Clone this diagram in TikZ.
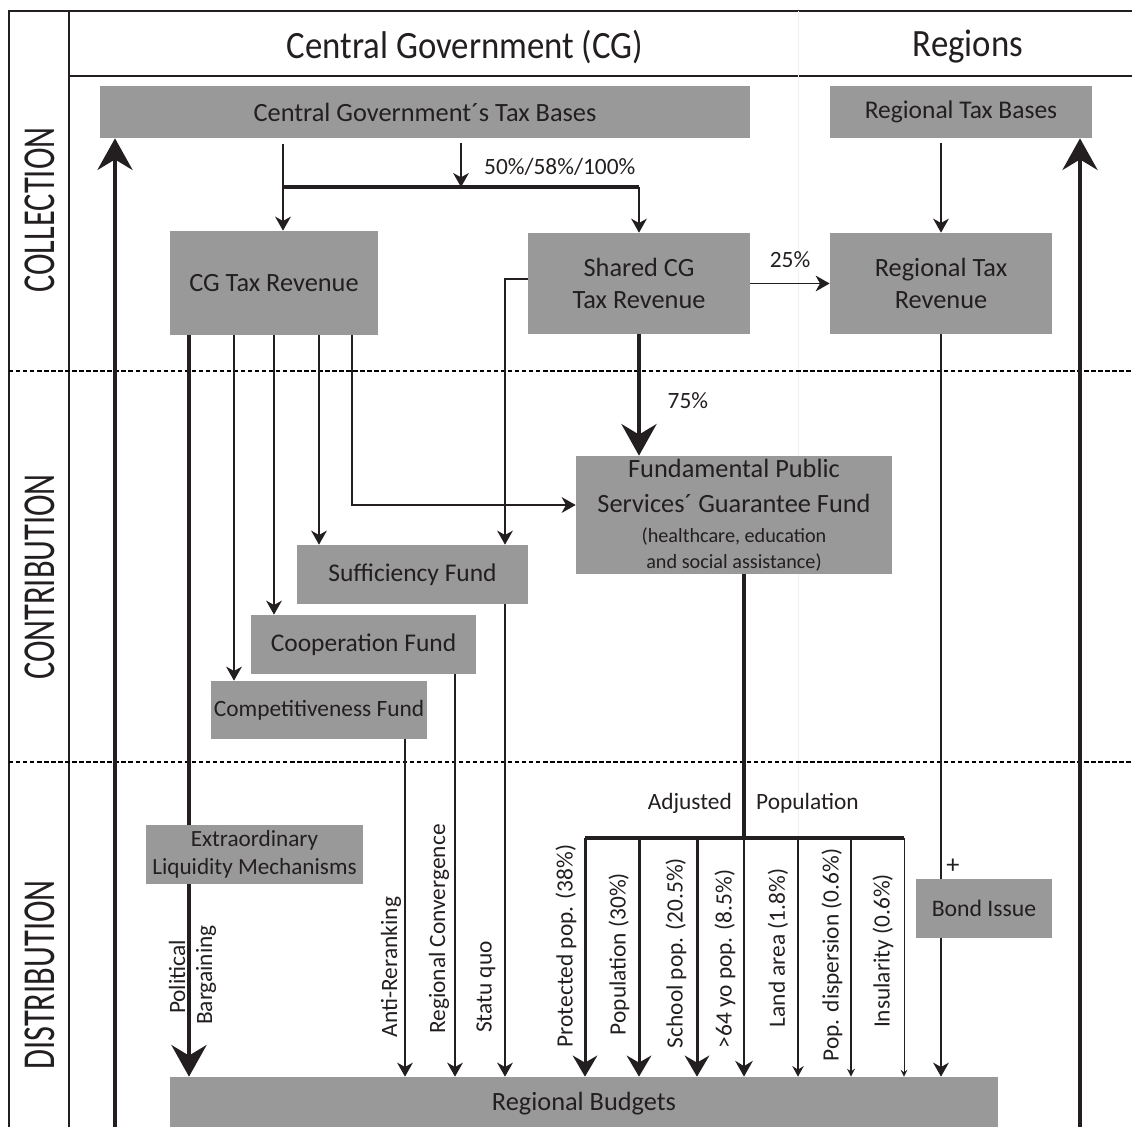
\documentclass[tikz,border=0pt]{standalone}
\usepackage{fontspec}
\setmainfont{Carlito}
\usetikzlibrary{arrows.meta,calc}
\definecolor{boxgray}{RGB}{153,153,153}
\definecolor{ink}{RGB}{35,31,32}
\tikzset{
  box/.style={fill=boxgray, inner sep=0pt, align=center, text=ink,
    font=\fontsize{15}{18}\selectfont},
  line/.style={line width=0.8pt, draw=ink},
  flow/.style={line, -{Stealth[length=8pt,width=9pt,inset=2.5pt]}},
  bigflow/.style={line width=2pt, draw=ink, -{Stealth[length=18pt,width=20pt,inset=6pt]}},
  midflow/.style={line width=1.7pt, draw=ink, -{Stealth[length=12pt,width=14pt,inset=4pt]}},
  lbl/.style={text=ink, font=\fontsize{13.3}{15}\selectfont},
  vlbl/.style={lbl, rotate=90},
  rowlbl/.style={text=ink, rotate=90, font=\fontsize{26}{28}\selectfont},
  headlbl/.style={text=ink, font=\fontsize{22}{24}\selectfont},
}
\begin{document}
\begin{tikzpicture}[x=0.02cm, y=-0.02cm]
\useasboundingbox (0,0) rectangle (1132,1126);
% frame and rows
\draw[line] (9,1140) -- (9,11) -- (1140,11);
\draw[line] (69,1140) -- (69,11);
\draw[line] (69,76) -- (1140,76);
\draw[black!6] (798,11) -- (798,1140);
\draw[line width=0.6pt, dash pattern=on 2.5pt off 1.5pt] (9,371) -- (1140,371);
\draw[line width=0.6pt, dash pattern=on 2.5pt off 1.5pt] (9,762) -- (1140,762);
\node[headlbl] (cghead) at (465,47) {\scalebox{0.9}[1]{Central Government (CG)}};
\node[headlbl] (rghead) at (968,47) {\scalebox{0.9}[1]{Regions}};
\node[rowlbl] (collect) at (40,210) {\scalebox{0.71}[1]{COLLECTION}};
\node[rowlbl] (contrib) at (40,577) {\scalebox{0.71}[1]{CONTRIBUTION}};
\node[rowlbl] (distrib) at (40,975) {\scalebox{0.71}[1]{DISTRIBUTION}};

% boxes
\node[box, minimum width=13cm, minimum height=1.04cm] (cgbases) at (425,112) {Central Government´s Tax Bases};
\node[box, minimum width=5.24cm, minimum height=1.04cm, font=\fontsize{14.5}{18}\selectfont] (rgbases) at (961,112) {Regional Tax Bases};
\node[box, minimum width=4.16cm, minimum height=2.08cm] (cgrev) at (274,283) {CG Tax Revenue};
\node[box, minimum width=4.44cm, minimum height=2.02cm] (shrev) at (639,283.5) {Shared CG\\Tax Revenue};
\node[box, minimum width=4.44cm, minimum height=2.02cm] (rgrev) at (941,283.5) {Regional Tax\\Revenue};
\node[box, minimum width=6.32cm, minimum height=2.36cm] (fund) at (734,515)
  {\raisebox{2pt}{Fundamental Public}\\Services´ Guarantee Fund\\[-1pt]
   {\fontsize{11.5}{14}\selectfont (healthcare, education}\\[-3pt]
   {\fontsize{11.5}{14}\selectfont and social assistance)}};
\node[box, minimum width=4.62cm, minimum height=1.18cm, font=\fontsize{14.5}{18}\selectfont] (suff) at (412.5,574.5) {Sufficiency Fund};
\node[box, minimum width=4.5cm, minimum height=1.18cm, font=\fontsize{14.5}{18}\selectfont] (coop) at (363.5,644.5) {Cooperation Fund};
\node[box, minimum width=4.32cm, minimum height=1.16cm, font=\fontsize{13.3}{16}\selectfont] (comp) at (319,710) {Competitiveness Fund};
\node[box, minimum width=2.72cm, minimum height=1.18cm, font=\fontsize{13.5}{16}\selectfont] (bond) at (984,908.5) {Bond Issue};
\node[box, minimum width=16.57cm, minimum height=1.08cm] (budgets) at (584,1104) {Regional Budgets};

% collection
\draw[bigflow] (115,1140) coordinate (lfoot) -- (lfoot |- cgbases.south);
\draw[bigflow] (1080,1140) coordinate (rfoot) -- (rfoot |- rgbases.south);
\coordinate (split) at (283,187);
\coordinate (splitR) at (639,187);
\coordinate (share) at (461,187);
\draw[line] (cgbases.south -| split) ++(0,6) -- (split);
\draw[line width=2pt, draw=ink] (split) -- (splitR);
\draw[flow] (split) -- (split |- cgrev.north);
\draw[flow] (splitR) -- (shrev.north);
\draw[flow] ($(cgbases.south -| share)+(0,5)$) -- (share);
\node[lbl, anchor=west] (sharetxt) at (478,167) {50\%/58\%/100\%};
\draw[flow] ($(rgrev |- rgbases.south)+(0,5)$) -- (rgrev.north);
\draw[flow] (shrev.east) -- (rgrev.west) node[lbl, midway, above=5pt] (quarter) {25\%};

% contribution
\draw[bigflow] (shrev.south) -- (shrev.south |- fund.north) node[lbl, pos=0.55, right=12pt] (threeq) {75\%};
\coordinate (stub) at (505,279);
\draw[flow] (shrev.west |- stub) -- (stub) -- (stub |- suff.north);
\draw[flow] ($(cgrev.south)+(-40,0)$) coordinate (c1) -- (c1 |- comp.north);
\draw[flow] (cgrev.south) -- (cgrev.south |- coop.north);
\draw[flow] ($(cgrev.south)+(45,0)$) coordinate (c3) -- (c3 |- suff.north);
\draw[flow] ($(cgrev.south)+(78,0)$) coordinate (c4) |- (fund.west |- 0,505);

% distribution
\draw[bigflow] ($(cgrev.south)+(-85,0)$) coordinate (pb) -- (pb |- budgets.north);
\node[box, minimum width=4.34cm, minimum height=1.18cm, font=\fontsize{13.2}{16}\selectfont] (extra) at (254.5,854.5) {Extraordinary\\Liquidity Mechanisms};
\node[vlbl] (polit) at (177,977) {Political};
\node[vlbl] (bargain) at (206,975) {Bargaining};
\draw[flow] (405,0 |- comp.south) coordinate (d1) -- (d1 |- budgets.north);
\draw[flow] (455,0 |- coop.south) coordinate (d2) -- (d2 |- budgets.north);
\draw[flow] (505,0 |- suff.south) coordinate (d3) -- (d3 |- budgets.north);
\node[vlbl] (antirr) at (391,967) {Anti-Reranking};
\node[vlbl] (regconv) at (439,929) {Regional Convergence};
\node[vlbl] (statu) at (486,987) {Statu quo};

% adjusted population
\coordinate (adj) at (744,838);
\draw[line width=2pt, draw=ink] (fund.south -| adj) -- (adj);
\draw[line width=2pt, draw=ink] (585,838) coordinate (popL) -- (904,838) coordinate (popR);
\node[lbl, anchor=east] (adjtxt) at (738,803) {Adjusted};
\node[lbl, anchor=west] (poptxt) at (750,803) {Population};
\draw[midflow] (popL) -- (popL |- budgets.north);
\draw[midflow] (639,838) coordinate (p2) -- (p2 |- budgets.north);
\draw[midflow] (697,838) coordinate (p3) -- (p3 |- budgets.north);
\draw[line width=1.3pt, draw=ink, -{Stealth[length=9pt,width=10pt,inset=3pt]}] (adj) -- (adj |- budgets.north);
\draw[line width=1pt, draw=ink, -{Stealth[length=6pt,width=6.5pt,inset=2pt]}] (798,838) coordinate (p5) -- (p5 |- budgets.north);
\draw[line width=0.7pt, draw=ink, -{Stealth[length=4.5pt,width=4.5pt,inset=1.5pt]}] (851,838) coordinate (p6) -- (p6 |- budgets.north);
\draw[line width=0.5pt, draw=ink, -{Stealth[length=4pt,width=4pt,inset=1.5pt]}] (popR) -- (popR |- budgets.north);
\node[vlbl] (protect) at (566,946) {Protected pop. (38\%)};
\node[vlbl] (popul) at (619,954) {Population (30\%)};
\node[vlbl] (school) at (676,953) {School pop. (20.5\%)};
\node[vlbl] (elder) at (725,959) {>64 yo pop. (8.5\%)};
\node[vlbl] (land) at (778,948) {Land area (1.8\%)};
\node[vlbl] (disp) at (832,955) {Pop. dispersion (0.6\%)};
\node[vlbl] (insul) at (883,951) {Insularity (0.6\%)};

% regional revenue and bonds
\draw[line] (rgrev.south) -- (rgrev.south |- bond.north);
\draw[flow] (rgrev.south |- bond.south) -- (rgrev.south |- budgets.north);
\node[lbl, font=\fontsize{15}{15}\selectfont] (plus) at (953,866) {+};
\end{tikzpicture}
\end{document}
